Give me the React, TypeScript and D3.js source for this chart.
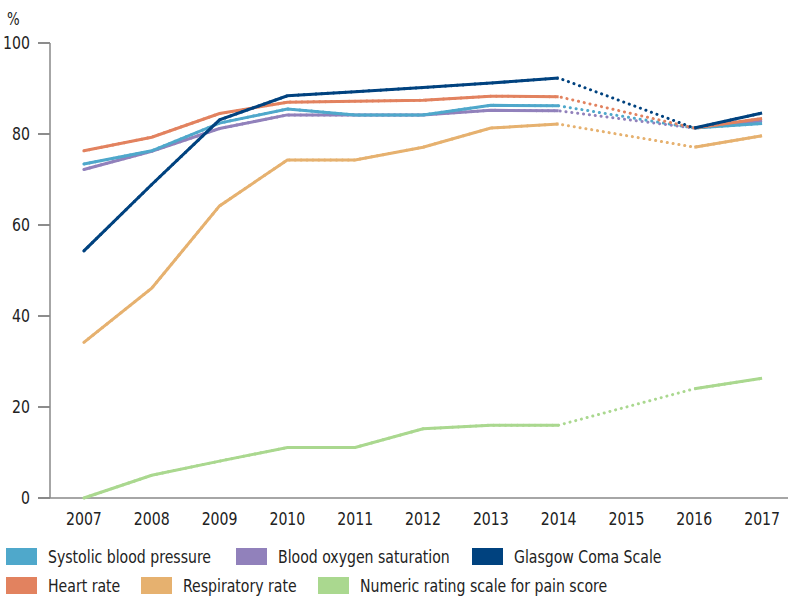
import React from "react";
import * as d3 from "d3";

const years = ["2007", "2008", "2009", "2010", "2011", "2012", "2013", "2014", "2015", "2016", "2017"];
const yTicks = [0, 20, 40, 60, 80, 100];

const systolic = [73.4, 76.3, 82.4, 85.5, 84.2, 84.2, 86.3, 86.2, null, 81.3, 82.3];
const oxygen = [72.2, 76.2, 81.2, 84.2, 84.2, 84.2, 85.2, 85.1, null, 81.3, 82.9];
const glasgow = [54.3, 68.9, 83.1, 88.4, 89.3, 90.2, 91.2, 92.3, null, 81.3, 84.6];
const heart = [76.3, 79.3, 84.5, 87.0, 87.2, 87.4, 88.3, 88.2, null, 81.3, 83.4];
const respiratory = [34.2, 46.1, 64.2, 74.3, 74.3, 77.1, 81.3, 82.2, null, 77.1, 79.6];
const pain = [0, 5.0, 8.1, 11.1, 11.1, 15.2, 16.0, 16.0, null, 24.0, 26.3];

const seriesNames = [
  "Systolic blood pressure",
  "Blood oxygen saturation",
  "Glasgow Coma Scale",
  "Heart rate",
  "Respiratory rate",
  "Numeric rating scale for pain score",
];
const seriesData = [systolic, oxygen, glasgow, heart, respiratory, pain];
const seriesColors = ["#4fa8cb", "#9181bb", "#00427f", "#e2825f", "#e6b16f", "#aad88f"];
const drawOrder = [5, 4, 1, 0, 3, 2];

const FONT = "'DejaVu Sans Condensed', 'DejaVu Sans', sans-serif";
const SX = 0.87;

function T(props: { x: number; y: number; anchor?: string; size?: number; children: React.ReactNode }) {
  return (
    <text
      transform={`translate(${props.x},${props.y}) scale(${SX},1)`}
      textAnchor={props.anchor || "start"}
      fontSize={props.size || 18}
      dy="0.35em"
    >
      {props.children}
    </text>
  );
}

export default function App() {
  const W = 788;
  const H = 599;
  const x = d3.scalePoint<string>().domain(years).range([50, 796]).padding(0.5);
  const y = d3.scaleLinear().domain([0, 100]).range([498, 43]);

  const solid = d3
    .line<number | null>()
    .defined((d) => d != null)
    .x((_, i) => x(years[i]) as number)
    .y((d) => y(d as number));

  const dotted = (vals: (number | null)[]) => {
    const pts = vals
      .map((v, i) => (v == null ? null : ([x(years[i]) as number, y(v)] as [number, number])))
      .filter((p) => p != null) as [number, number][];
    return d3.line()(pts) || "";
  };

  const legendPos = [
    { sx: 6, tx: 48, y: 548 },
    { sx: 236, tx: 278, y: 548 },
    { sx: 472, tx: 514, y: 548 },
    { sx: 6, tx: 48, y: 577 },
    { sx: 141, tx: 183, y: 577 },
    { sx: 318, tx: 360, y: 577 },
  ];

  return (
    <svg width={W} height={H} style={{ position: "absolute", left: 0, top: 0, background: "#fff" }}>
      <g fontFamily={FONT} fill="#222">
        <T x={7} y={19} size={17}>%</T>
        {yTicks.map((t) => (
          <g key={t}>
            <line x1={38} x2={50} y1={y(t)} y2={y(t)} stroke="#666" strokeWidth={1.5} />
            <T x={30} y={y(t)} anchor="end">{t}</T>
          </g>
        ))}
        <line x1={50} x2={50} y1={y(100)} y2={y(0)} stroke="#888" strokeWidth={1.5} />
        <line x1={38} x2={788} y1={y(0)} y2={y(0)} stroke="#888" strokeWidth={1.5} />
        {years.map((yr) => (
          <T key={yr} x={x(yr) as number} y={519} anchor="middle">{yr}</T>
        ))}
      </g>
      {drawOrder.map((si) => (
        <g key={si}>
          <path
            d={dotted(seriesData[si])}
            fill="none"
            stroke={seriesColors[si]}
            strokeWidth={3}
            strokeLinecap="round"
            strokeDasharray="0.1 5.8"
          />
          <path d={solid(seriesData[si]) || ""} fill="none" stroke={seriesColors[si]} strokeWidth={3} />
        </g>
      ))}
      <g fontFamily={FONT} fill="#222">
        {seriesNames.map((n, i) => (
          <g key={n}>
            <rect x={legendPos[i].sx} y={legendPos[i].y} width={31} height={17} fill={seriesColors[i]} />
            <T x={legendPos[i].tx} y={legendPos[i].y + 8.5}>{n}</T>
          </g>
        ))}
      </g>
    </svg>
  );
}
